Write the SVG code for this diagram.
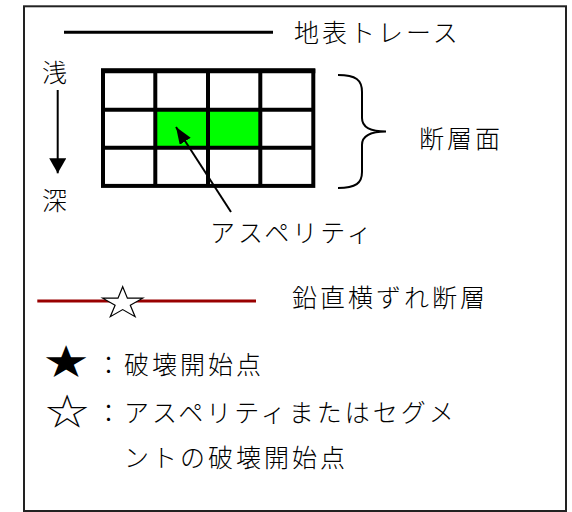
<svg xmlns="http://www.w3.org/2000/svg" width="572" height="512" viewBox="0 0 572 512">
<style>
  text { font-family: "Noto Sans CJK JP", "Noto Sans", sans-serif; font-size: 25px; font-weight: 300; letter-spacing: 3px; fill: #000; }
  .grid { stroke: #000; stroke-width: 4; fill: none; }
  .green { fill: #00FF00; stroke: none; }
  .thin { stroke: #000; stroke-width: 2; fill: none; }
  .star { font-size: 36px; letter-spacing: 0; }
</style>
<defs>
  <marker id="headV" markerUnits="userSpaceOnUse" markerWidth="18" markerHeight="18" refX="15" refY="8.5" orient="auto">
    <path d="M0,0 L15,8.5 L0,17 Z" fill="#000"/>
  </marker>
  <marker id="headD" markerUnits="userSpaceOnUse" markerWidth="18" markerHeight="14" refX="17" refY="6.5" orient="auto">
    <path d="M0,0 L17,6.5 L0,13 Z" fill="#000"/>
  </marker>
</defs>
<rect id="frame" x="24" y="6.3" width="542" height="504.7" fill="#fff" stroke="#222" stroke-width="2"/>

<g id="surface-trace">
  <line x1="64" y1="32.3" x2="273" y2="32.3" stroke="#000" stroke-width="3"/>
  <text x="294" y="42">地表トレース</text>
</g>

<g id="depth-axis">
  <text x="42" y="81.5">浅</text>
  <text x="42" y="209.5">深</text>
</g>

<g id="fault-plane">
  <rect class="green" x="155.3" y="109.7" width="105" height="38"/>
  <line class="grid" x1="155.3" y1="70.8" x2="155.3" y2="185.9"/>
  <line class="grid" x1="208" y1="70.8" x2="208" y2="185.9"/>
  <line class="grid" x1="260.3" y1="70.8" x2="260.3" y2="185.9"/>
  <line class="grid" x1="103" y1="109.7" x2="313.3" y2="109.7"/>
  <line class="grid" x1="103" y1="147.7" x2="313.3" y2="147.7"/>
  <rect class="grid" x="103" y="70.8" width="210.3" height="115.1"/>
  <line x1="101" y1="70.8" x2="315.3" y2="70.8" stroke="#000" stroke-width="5"/>
</g>

<g id="brace">
  <path class="thin" d="M338,75 C356,75 362,80 362,92 L362,118 C362,127 370,131.5 386,131.5 C370,131.5 362,136 362,145 L362,172 C362,183 356,188 338,188"/>
  <text x="419" y="147.5">断層面</text>
</g>

<g id="asperity-label">
  <text x="210" y="242">アスペリティ</text>
</g>

<g id="connectors">
  <line class="thin" x1="57.7" y1="90" x2="57.7" y2="173.3" marker-end="url(#headV)"/>
  <line class="thin" x1="231" y1="212" x2="176" y2="127" marker-end="url(#headD)"/>
</g>

<g id="strike-slip-fault">
  <line x1="37.3" y1="301" x2="256" y2="301" stroke="#990000" stroke-width="3"/>
  <polygon points="122.7,286.7 127.4,298.2 142.7,298.2 130.3,305.3 135.1,316.7 122.7,309.6 110.3,316.7 115.1,305.3 102.7,298.2 118,298.2" fill="#fff" stroke="#000" stroke-width="1.2" stroke-linejoin="miter"/>
  <text x="292" y="306.5">鉛直横ずれ断層</text>
</g>

<g id="legend">
  <text class="star" transform="translate(66,375) scale(1.2,1)" x="0" y="0" text-anchor="middle">★</text>
  <text x="96" y="374">：破壊開始点</text>
  <text class="star" transform="translate(67,425) scale(1.2,1)" x="0" y="0" text-anchor="middle">☆</text>
  <text x="96" y="421.5">：アスペリティまたはセグメ</text>
  <text x="124" y="467">ントの破壊開始点</text>
</g>
</svg>
